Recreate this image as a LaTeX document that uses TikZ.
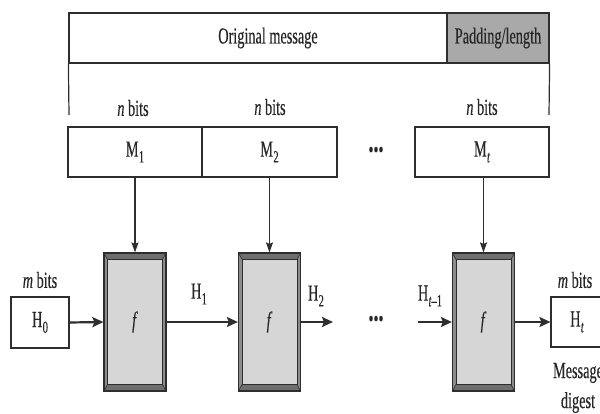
\documentclass[tikz,border=0pt]{standalone}
\usepackage{fontspec}
\setmainfont[FakeStretch=0.62,FakeBold=0.3]{Liberation Serif}
\usetikzlibrary{arrows.meta,calc}
\definecolor{edge}{HTML}{2E2E2E}
\definecolor{padfill}{HTML}{A9A9A9}
\definecolor{sidegray}{HTML}{8C8C8C}
\definecolor{bandgray}{HTML}{6E6E6E}
\definecolor{innergray}{HTML}{D6D6D6}
\newcommand\lowsub[1]{\kern0.3pt\raisebox{-0.55ex}{\fontsize{17}{17}\selectfont #1}}
\begin{document}
\begin{tikzpicture}[x=1pt,y=-1pt,
  every node/.style={font=\fontsize{23}{27}\selectfont, text=black!85},
  box/.style={draw=edge, line width=1.2pt, fill=white, inner sep=0pt, minimum height=50pt},
  padbox/.style={box, fill=padfill},
  lbl/.style={inner sep=0pt},
  fbox/.style={draw=edge, line width=1.2pt, fill=sidegray, inner sep=0pt,
    minimum width=62pt, minimum height=138pt,
    path picture={
      \coordinate (pnw) at (path picture bounding box.north west);
      \coordinate (pne) at (path picture bounding box.north east);
      \coordinate (psw) at (path picture bounding box.south west);
      \coordinate (pse) at (path picture bounding box.south east);
      \fill[bandgray] (pnw) -- (pne) -- ($(pne)+(-3.5,6.5)$) -- ($(pnw)+(3.5,6.5)$) -- cycle;
      \fill[bandgray] (psw) -- (pse) -- ($(pse)+(-3.5,-6.5)$) -- ($(psw)+(3.5,-6.5)$) -- cycle;
      \draw[edge, line width=0.6pt] (pnw) -- ($(pnw)+(3.5,6.5)$) (pne) -- ($(pne)+(-3.5,6.5)$)
        (psw) -- ($(psw)+(3.5,-6.5)$) (pse) -- ($(pse)+(-3.5,-6.5)$);
      \draw[edge, line width=1pt, fill=innergray] ($(pnw)+(3.5,6.5)$) rectangle ($(pse)+(-3.5,-6.5)$);
    }},
  thick arrow/.style={draw=edge, line width=2.2pt, -{Stealth[length=11pt,width=10pt,inset=2pt]}},
  thin arrow/.style={draw=edge, line width=1.2pt, -{Stealth[length=10pt,width=7pt,inset=1.5pt]}},
  thin line/.style={draw=edge, line width=1.2pt}]
\useasboundingbox (0,0) rectangle (600,414);
\clip (0,0) rectangle (600,414);

% top bar
\node[box, minimum width=378pt] (orig) at (258,38) {};
\node[padbox, minimum width=102pt] (pad) at (498,38) {Padding/length};
\node[lbl] (origtxt) at (268,38) {Original message};
\coordinate (ll) at (69,115);
\coordinate (rl) at (549,115);
\draw[thin line] (orig.south west) -- (ll);
\draw[thin line] (pad.south east) -- (rl);

% n bits
\node[lbl] (nb1) at (133,108) {\textit{n} bits};
\node[lbl] (nb2) at (270,107) {\textit{n} bits};
\node[lbl] (nb3) at (482,107) {\textit{n} bits};

% message blocks
\node[box, minimum width=134pt] (m1) at (135,152) {M\lowsub{1}};
\node[box, minimum width=135pt] (m2) at (269.5,152) {M\lowsub{2}};
\node[box, minimum width=134pt] (mt) at (482,152) {M\lowsub{\itshape t}};
\node[lbl] (dots1) at (376,152) {•••};

% compression functions
\node[fbox] (f1) at (135,322) {\textit{f}};
\node[fbox] (f2) at (269.5,322) {\textit{f}};
\node[fbox] (f3) at (483.5,322) {\textit{f}};

\draw[thin arrow] (m1.south -| f1.north) -- (f1.north);
\draw[thin arrow] (m2.south -| f2.north) -- (f2.north);
\draw[thin arrow] (mt.south -| f3.north) -- (f3.north);

% chaining
\node[box, minimum width=58pt, minimum height=51pt] (h0) at (40,322.5) {H\lowsub{0}};
\node[lbl] (mb1) at (40,280) {\textit{m} bits};
\node[box, minimum width=52pt, minimum height=50pt] (ht) at (577,322) {H\lowsub{\itshape t}};
\node[lbl] (mb2) at (575,280) {\textit{m} bits};
\node[lbl, align=center, font=\fontsize{23}{30}\selectfont] (md) at (578,388) {Message\\digest};

\coordinate (h2end) at (333,322);
\coordinate (htstart) at (418,322);
\node[lbl] (dots2) at (376,321) {•••};

\draw[thick arrow] (h0.east) -- (f1.west);
\draw[thick arrow] (f1.east) -- (f2.west);
\draw[thick arrow] (f2.east) -- (h2end);
\draw[thick arrow] (htstart) -- (f3.west);
\draw[thick arrow] (f3.east) -- (ht.west);

\node[lbl] (h1l) at (199,294) {H\lowsub{1}};
\node[lbl] (h2l) at (316,296) {H\lowsub{2}};
\node[lbl] (htl) at (430,296) {H\lowsub{{\itshape t}–1}};
\end{tikzpicture}
\end{document}
